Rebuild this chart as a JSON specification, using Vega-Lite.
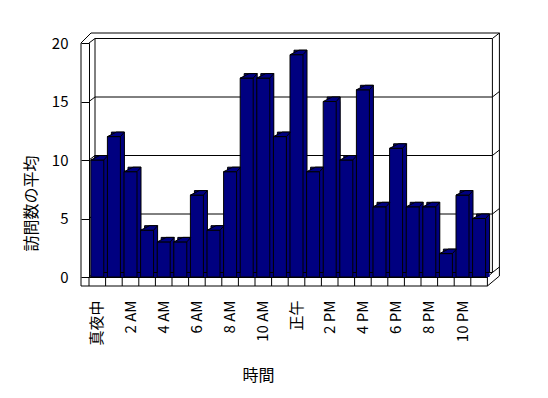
{
  "$schema": "https://vega.github.io/schema/vega-lite/v6.json",
  "width": 398.4,
  "height": 234,
  "autosize": "none",
  "padding": {"left": 89, "top": 43, "right": 60.6, "bottom": 121},
  "background": "white",
  "config": {"view": {"stroke": null}, "font": "Noto Sans CJK JP"},
  "datasets": {
    "visits": [
      {"i": 0, "h": "真夜中", "v": 10},
      {"i": 1, "h": "1 AM", "v": 12},
      {"i": 2, "h": "2 AM", "v": 9},
      {"i": 3, "h": "3 AM", "v": 4},
      {"i": 4, "h": "4 AM", "v": 3},
      {"i": 5, "h": "5 AM", "v": 3},
      {"i": 6, "h": "6 AM", "v": 7},
      {"i": 7, "h": "7 AM", "v": 4},
      {"i": 8, "h": "8 AM", "v": 9},
      {"i": 9, "h": "9 AM", "v": 17},
      {"i": 10, "h": "10 AM", "v": 17},
      {"i": 11, "h": "11 AM", "v": 12},
      {"i": 12, "h": "正午", "v": 19},
      {"i": 13, "h": "1 PM", "v": 9},
      {"i": 14, "h": "2 PM", "v": 15},
      {"i": 15, "h": "3 PM", "v": 10},
      {"i": 16, "h": "4 PM", "v": 16},
      {"i": 17, "h": "5 PM", "v": 6},
      {"i": 18, "h": "6 PM", "v": 11},
      {"i": 19, "h": "7 PM", "v": 6},
      {"i": 20, "h": "8 PM", "v": 6},
      {"i": 21, "h": "9 PM", "v": 2},
      {"i": 22, "h": "10 PM", "v": 7},
      {"i": 23, "h": "11 PM", "v": 5}
    ],
    "grid": [{"g": 0}, {"g": 5}, {"g": 10}, {"g": 15}, {"g": 20}],
    "one": [{"k": 1}]
  },
  "layer": [
    {
      "layer": [
        {
          "data": {"name": "grid"},
          "mark": {"type": "rule", "color": "black", "xOffset": 6, "x2Offset": 5, "yOffset": -4.5},
          "encoding": {
            "x": {"datum": 0, "type": "quantitative", "scale": {"domain": [0, 24], "nice": false, "zero": false}, "axis": null},
            "x2": {"datum": 24},
            "y": {"field": "g", "type": "quantitative"}
          }
        },
        {
          "data": {"name": "grid"},
          "mark": {"type": "rule", "color": "black", "x2Offset": 6, "y2Offset": -4.5},
          "encoding": {
            "x": {"datum": 0, "type": "quantitative", "axis": null},
            "x2": {"datum": 0},
            "y": {"field": "g", "type": "quantitative"},
            "y2": {"field": "g"}
          }
        },
        {
          "data": {"name": "grid"},
          "mark": {"type": "rule", "color": "black", "xOffset": 5, "x2Offset": 12, "yOffset": -4.5, "y2Offset": -10},
          "encoding": {
            "x": {"datum": 24, "type": "quantitative", "axis": null},
            "x2": {"datum": 24},
            "y": {"field": "g", "type": "quantitative"},
            "y2": {"field": "g"}
          }
        },
        {
          "data": {"name": "one"},
          "mark": {"type": "rule", "color": "black", "xOffset": -8, "y2Offset": 9},
          "encoding": {
            "x": {"datum": 0, "type": "quantitative", "axis": null},
            "y": {"datum": 20, "type": "quantitative"},
            "y2": {"datum": 0}
          }
        },
        {
          "data": {"name": "one"},
          "mark": {"type": "rule", "color": "black", "xOffset": 6, "yOffset": -4.5, "y2Offset": -4.5},
          "encoding": {
            "x": {"datum": 0, "type": "quantitative", "axis": null},
            "y": {"datum": 20, "type": "quantitative"},
            "y2": {"datum": 0}
          }
        },
        {
          "data": {"name": "one"},
          "mark": {"type": "rule", "color": "black", "xOffset": 5, "yOffset": -4.5, "y2Offset": -4.5},
          "encoding": {
            "x": {"datum": 24, "type": "quantitative", "axis": null},
            "y": {"datum": 20, "type": "quantitative"},
            "y2": {"datum": 0}
          }
        },
        {
          "data": {"name": "one"},
          "mark": {"type": "rule", "color": "black", "xOffset": 12, "yOffset": -10, "y2Offset": -1},
          "encoding": {
            "x": {"datum": 24, "type": "quantitative", "axis": null},
            "y": {"datum": 20, "type": "quantitative"},
            "y2": {"datum": 0}
          }
        },
        {
          "data": {"name": "one"},
          "mark": {"type": "rule", "color": "black", "xOffset": 2, "x2Offset": 12, "yOffset": -10},
          "encoding": {
            "x": {"datum": 0, "type": "quantitative", "axis": null},
            "x2": {"datum": 24},
            "y": {"datum": 20, "type": "quantitative"}
          }
        },
        {
          "data": {"name": "one"},
          "mark": {"type": "rule", "color": "black", "xOffset": -8, "x2Offset": 2, "y2Offset": -10},
          "encoding": {
            "x": {"datum": 0, "type": "quantitative", "axis": null},
            "x2": {"datum": 0},
            "y": {"datum": 20, "type": "quantitative"},
            "y2": {"datum": 20}
          }
        },
        {
          "data": {"name": "one"},
          "mark": {"type": "rule", "color": "black", "xOffset": -8, "yOffset": 9},
          "encoding": {
            "x": {"datum": 0, "type": "quantitative", "axis": null},
            "x2": {"datum": 24},
            "y": {"datum": 0, "type": "quantitative"}
          }
        },
        {
          "data": {"name": "visits"},
          "mark": {"type": "rule", "color": "black", "y2Offset": 9},
          "encoding": {
            "x": {"field": "i", "type": "quantitative", "axis": null},
            "y": {"datum": 0, "type": "quantitative"},
            "y2": {"datum": 0}
          }
        },
        {
          "data": {"name": "one"},
          "mark": {"type": "rule", "color": "black", "y2Offset": 9},
          "encoding": {
            "x": {"datum": 24, "type": "quantitative", "axis": null},
            "y": {"datum": 0, "type": "quantitative"},
            "y2": {"datum": 0}
          }
        },
        {
          "data": {"name": "one"},
          "mark": {"type": "rule", "color": "black", "x2Offset": 12, "yOffset": 9, "y2Offset": -1},
          "encoding": {
            "x": {"datum": 24, "type": "quantitative", "axis": null},
            "x2": {"datum": 24},
            "y": {"datum": 0, "type": "quantitative"},
            "y2": {"datum": 0}
          }
        },
        {
          "data": {"name": "one"},
          "mark": {"type": "rule", "color": "black", "x2Offset": 5, "y2Offset": -4.5},
          "encoding": {
            "x": {"datum": 24, "type": "quantitative", "axis": null},
            "x2": {"datum": 24},
            "y": {"datum": 0, "type": "quantitative"},
            "y2": {"datum": 0}
          }
        }
      ]
    },
    {
      "data": {"name": "visits"},
      "encoding": {
        "x": {
          "field": "h",
          "type": "ordinal",
          "sort": null,
          "scale": {"paddingInner": 0, "paddingOuter": 0},
          "axis": {
            "title": "時間",
            "titleFont": "Noto Sans CJK JP",
            "titleFontSize": 16,
            "titleFontWeight": "normal",
            "titleColor": "#000000",
            "titleX": 169,
            "titleY": 98,
            "titleAlign": "center",
            "titleBaseline": "middle",
            "labelAngle": -90,
            "labelFont": "Noto Sans CJK JP",
            "labelFontSize": 15,
            "labelColor": "#000000",
            "labelPadding": 23,
            "labelOverlap": false,
            "labelExpr": "indexof(['真夜中','2 AM','4 AM','6 AM','8 AM','10 AM','正午','2 PM','4 PM','6 PM','8 PM','10 PM'], datum.value) >= 0 ? datum.label : ''",
            "ticks": false,
            "domainColor": "black",
            "grid": false
          }
        },
        "y": {
          "field": "v",
          "type": "quantitative",
          "scale": {"domain": [0, 20], "nice": false},
          "axis": {
            "values": [0, 5, 10, 15, 20],
            "title": "訪問数の平均",
            "titleFont": "Noto Sans CJK JP",
            "titleFontSize": 16,
            "titleFontWeight": "normal",
            "titleColor": "#000000",
            "titleX": -58,
            "titleY": 160,
            "titleAngle": -90,
            "titleAlign": "center",
            "titleBaseline": "middle",
            "labelFont": "Noto Sans CJK JP",
            "labelFontSize": 15,
            "labelColor": "#000000",
            "labelPadding": 13,
            "tickSize": 8,
            "tickColor": "black",
            "domainColor": "black",
            "grid": false
          }
        }
      },
      "layer": [
        {
          "mark": {"type": "bar", "width": 13, "xOffset": 4, "fill": "#000080", "strokeWidth": 0, "opacity": 1}
        },
        {
          "mark": {"type": "bar", "width": 13, "xOffset": 4, "yOffset": -4.5, "fill": "#000080", "stroke": "black", "strokeWidth": 1, "opacity": 1}
        },
        {
          "mark": {"type": "bar", "width": 13, "fill": "#000080", "stroke": "black", "strokeWidth": 1, "opacity": 1}
        },
        {
          "mark": {"type": "point", "shape": "M -6.5 0 L 6.5 0 L 10.5 -4.5 L 2.5 -4.5 Z", "size": 4, "filled": true, "fill": "#000080", "stroke": "black", "strokeWidth": 1, "opacity": 1}
        }
      ]
    }
  ],
  "resolve": {"scale": {"x": "independent"}}
}
